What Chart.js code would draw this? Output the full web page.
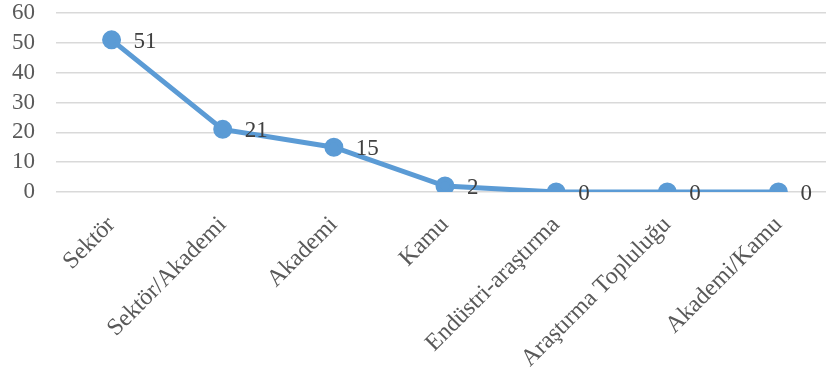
<!DOCTYPE html>
<html>
<head>
<meta charset="utf-8">
<script src="https://cdn.jsdelivr.net/npm/chart.js@4.4.0/dist/chart.umd.min.js"></script>
<style>
  html, body { margin: 0; padding: 0; background: #fff; overflow: hidden; }
  #wrap { width: 834px; height: 370px; }
</style>
</head>
<body>
<div id="wrap"><canvas id="chart"></canvas></div>
<script>
const categories = ['Sektör', 'Sektör/Akademi', 'Akademi', 'Kamu', 'Endüstri-araştırma', 'Araştırma Topluluğu', 'Akademi/Kamu'];
const counts = [51, 21, 15, 2, 0, 0, 0];
const yTicks = [0, 10, 20, 30, 40, 50, 60];

const fontFamily = '"Liberation Serif", "Times New Roman", serif';
const textColor = '#595959';

// value labels to the right of each point
const valueLabels = {
    id: 'valueLabels',
    afterDatasetsDraw(chart){
        const ctx = chart.ctx;
        const meta = chart.getDatasetMeta(0);
        ctx.save();
        ctx.font = '23px ' + fontFamily;
        ctx.fillStyle = '#404040';
        ctx.textAlign = 'left';
        ctx.textBaseline = 'middle';
        meta.data.forEach((pt, i) => {
            ctx.fillText(String(counts[i]), pt.x + 22, pt.y + 2);
        });
        ctx.restore();
    }
};

const ctx = document.getElementById('chart');
new Chart(ctx, {
    type: 'line',
    data: {
        labels: categories,
        datasets: [{
            data: counts,
            borderColor: '#5B9BD5',
            backgroundColor: '#5B9BD5',
            borderWidth: 5,
            pointRadius: 7,
            pointHoverRadius: 7,
            tension: 0
        }]
    },
    options: {
        responsive: true,
        maintainAspectRatio: false,
        animation: false,
        layout: { autoPadding: false, padding: { top: 13, left: 0, right: 0, bottom: 0 } },
        plugins: {
            legend: { display: false },
            tooltip: { enabled: false }
        },
        scales: {
            x: {
                offset: true,
                grid: { display: false },
                border: { display: false },
                afterFit(axis){
                    axis.height = 178;
                    axis.paddingLeft = 0;
                    axis.paddingRight = 0;
                },
                ticks: {
                    color: textColor,
                    font: { family: fontFamily, size: 24 },
                    minRotation: 45,
                    maxRotation: 45,
                    padding: 11,
                    autoSkip: false
                }
            },
            y: {
                min: 0,
                max: 60,
                afterBuildTicks(axis){
                    axis.ticks = yTicks.map(v => ({ value: v }));
                },
                afterFit(axis){
                    axis.width = 56;
                    axis.paddingTop = 0;
                    axis.paddingBottom = 0;
                },
                grid: { color: '#d9d9d9', lineWidth: 1.5, drawTicks: false },
                border: { display: false },
                ticks: {
                    color: textColor,
                    font: { family: fontFamily, size: 23 },
                    padding: 21,
                    autoSkip: false
                }
            }
        }
    },
    plugins: [valueLabels]
});
</script>
</body>
</html>
